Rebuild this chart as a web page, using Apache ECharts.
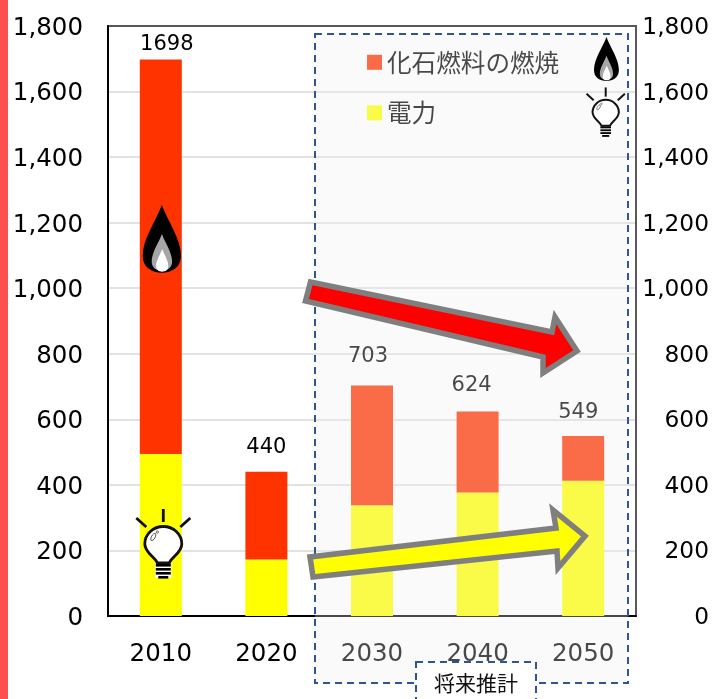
<!DOCTYPE html>
<html>
<head>
<meta charset="utf-8">
<script src="https://cdn.jsdelivr.net/npm/echarts@6/dist/echarts.min.js"></script>
<style>html,body{margin:0;padding:0;background:#fff}#c{width:720px;height:699px}</style>
</head>
<body>
<div id="c"></div>
<script>
const years = ['2010','2020','2030','2040','2050'];
const electricity = [494,172,338,377,413];
const fossil = [1204,268,365,247,136];
const totals = [1698,440,703,624,549];
const yTicks = {min:0,max:1800,interval:200};
const nameFossil = '化石燃料の燃焼';
const nameElec = '電力';
const noteText = '将来推計';
const labelDX = [6,0,-4,-6,-5];
const labelDY = [1,-8.5,-13.5,-10.5,-8.5];

const FONT = '"DejaVu Sans", Verdana, sans-serif';
const CJK = '"Noto Sans CJK JP", sans-serif';

echarts.graphic.registerShape('tearDrop', echarts.graphic.extendShape({
  type:'tearDrop',
  shape:{x:0,y:0,w:1,h:1},
  buildPath(ctx,s){
    const X=u=>s.x+s.w*(u+30)/60, Y=v=>s.y+s.h*(v+50)/100;
    ctx.moveTo(X(0),Y(-50));
    ctx.bezierCurveTo(X(10),Y(-25),X(30),Y(0),X(30),Y(25));
    ctx.bezierCurveTo(X(30),Y(42),X(16),Y(50),X(0),Y(50));
    ctx.bezierCurveTo(X(-16),Y(50),X(-30),Y(42),X(-30),Y(25));
    ctx.bezierCurveTo(X(-30),Y(0),X(-10),Y(-25),X(0),Y(-50));
    ctx.closePath();
  }
}));
echarts.graphic.registerShape('bulbBody', echarts.graphic.extendShape({
  type:'bulbBody',
  shape:{},
  buildPath(ctx){
    ctx.moveTo(-6,18);
    ctx.bezierCurveTo(-8,12,-18.5,8,-18.5,-1);
    ctx.bezierCurveTo(-18.5,-11,-10,-18.5,0,-18.5);
    ctx.bezierCurveTo(10,-18.5,18.5,-11,18.5,-1);
    ctx.bezierCurveTo(18.5,8,8,12,6,18);
    ctx.closePath();
  }
}));

const Z = 104;
function tear(x,y,w,h,fill){
  return {type:'tearDrop',z:Z,shape:{x:x,y:y,w:w,h:h},style:{fill:fill}};
}
function flame(x,y,s){
  return {type:'group',x:x,y:y,scaleX:s,scaleY:s,children:[
    tear(0,0,38.3,67.7,'#000'),
    tear(9,29,20.4,36.7,'#a6a6a6'),
    tear(13.4,44,12.2,22.7,'#fff')
  ]};
}
function ray(x1,y1,x2,y2){
  return {type:'line',z:Z,shape:{x1,y1,x2,y2},style:{stroke:'#111',lineWidth:2.8}};
}
function bulb(x,y,s){
  const bar=(yy,w)=>({type:'rect',z:Z,shape:{x:-w/2,y:yy,width:w,height:2.6},style:{fill:'#000'}});
  return {type:'group',x:x,y:y,scaleX:s,scaleY:s,children:[
    ray(0,-36,0,-23),ray(-27,-27,-17,-18),ray(27,-27,17,-18),
    {type:'rect',z:Z,shape:{x:-8,y:18,width:16,height:15},style:{fill:'#fff'}},
    {type:'bulbBody',z:Z,style:{fill:'#fff',stroke:'#111',lineWidth:2.8}},
    bar(19,15),bar(23,15),bar(27,15),bar(31,10),
    {type:'ellipse',z:Z,shape:{cx:-10,cy:-8,rx:1.8,ry:4},rotation:-0.5,originX:-10,originY:-8,style:{fill:'#fff',stroke:'#333',lineWidth:0.8}},
    {type:'circle',z:Z,shape:{cx:-6,cy:-13,r:1.2},style:{fill:'#fff',stroke:'#333',lineWidth:0.7}}
  ]};
}
function arrow(points,fill){
  return {type:'polygon',z:Z,shape:{points:points},style:{fill:fill,stroke:'#7f7f7f',lineWidth:5.5,lineJoin:'miter'}};
}

const chart = echarts.init(document.getElementById('c'),null,{renderer:'canvas'});
chart.setOption({
  animation:false,
  backgroundColor:'#fff',
  grid:{left:108,top:26,width:528,height:590,show:true,borderColor:'#595959',borderWidth:2,backgroundColor:'transparent'},
  legend:{
    orient:'vertical',left:362,top:45,itemWidth:15,itemHeight:15,itemGap:26,icon:'rect',
    data:[nameFossil,nameElec],
    textStyle:{fontFamily:CJK,fontSize:24.6,color:'#000'}
  },
  xAxis:{
    type:'category',data:years,
    axisTick:{show:false},
    axisLine:{lineStyle:{color:'#000',width:2}},
    axisLabel:{fontFamily:FONT,fontSize:24.5,color:'#000',margin:26}
  },
  yAxis:[
    {type:'value',position:'left',min:yTicks.min,max:yTicks.max,interval:yTicks.interval,
     axisLine:{show:true,lineStyle:{color:'#000',width:2}},axisTick:{show:false},
     splitLine:{showMinLine:false,showMaxLine:false,lineStyle:{color:'#e2e2e2',width:2}},
     axisLabel:{fontFamily:FONT,fontSize:24.5,color:'#000',margin:25,verticalAlign:'top',lineHeight:5,formatter:v=>v.toLocaleString('en-US')}},
    {type:'value',position:'right',min:yTicks.min,max:yTicks.max,interval:yTicks.interval,
     axisLine:{show:true,lineStyle:{color:'#595959',width:2}},axisTick:{show:false},splitLine:{show:false},
     axisLabel:{fontFamily:FONT,fontSize:23.3,color:'#000',margin:73,align:'right',verticalAlign:'top',lineHeight:4,formatter:v=>v.toLocaleString('en-US')}}
  ],
  series:[
    {name:nameElec,type:'bar',stack:'t',barWidth:42,data:electricity,itemStyle:{color:'#ffff00'}},
    {name:nameFossil,type:'bar',stack:'t',barWidth:42,itemStyle:{color:'#ff3300'},
     data:fossil.map((v,i)=>({value:v,label:{offset:[labelDX[i],labelDY[i]]}})),
     label:{show:true,position:'top',fontFamily:FONT,fontSize:21,color:'#000',formatter:p=>String(totals[p.dataIndex])}}
  ],
  graphic:{elements:[
    {type:'rect',z:100,shape:{x:0,y:0,width:8,height:699},style:{fill:'#ff5050'}},
    {type:'rect',z:100,shape:{x:315,y:34,width:313,height:649},style:{fill:'rgba(238,238,238,0.3)'}},
    {type:'rect',z:101,shape:{x:315,y:34,width:313,height:649},style:{fill:'none',stroke:'#2f5597',lineWidth:2,lineDash:[7,5]}},
    {type:'rect',z:102,shape:{x:416,y:662,width:120,height:45},style:{fill:'#fff',stroke:'#2f5597',lineWidth:2,lineDash:[7,5]}},
    {type:'text',z:103,x:476,y:683,style:{text:noteText,fontFamily:CJK,fontSize:21,fill:'#111',align:'center',verticalAlign:'middle'}},
    arrow([[310.5,282],[305.5,301],[543,357],[543,373],[577,351],[555,317],[552,332]],'#ff0000'),
    arrow([[310,557],[313,577],[557,551],[558,568],[585,536],[553,510],[556,528]],'#ffff00'),
    flame(142.7,205,1),
    flame(594,37,0.65),
    bulb(163.3,545,1),
    bulb(605.7,113,0.71)
  ]}
});
</script>
</body>
</html>
